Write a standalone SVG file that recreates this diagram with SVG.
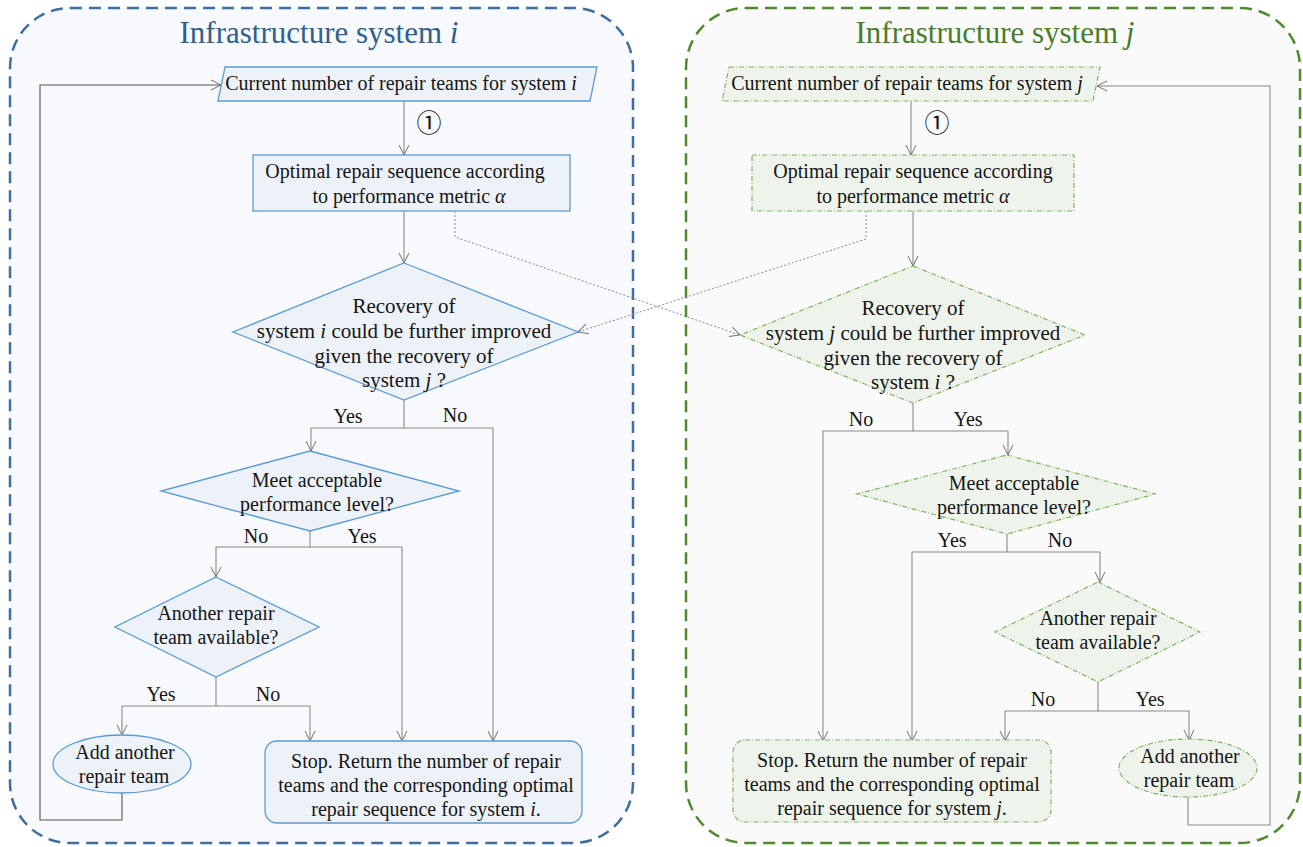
<svg xmlns="http://www.w3.org/2000/svg" width="1303" height="847" viewBox="0 0 1303 847">
  <defs>
    <marker id="arr" viewBox="0 0 12 12" refX="11" refY="6" markerWidth="12" markerHeight="12" markerUnits="userSpaceOnUse" orient="auto">
      <path d="M1,1 L11,6 L1,11" fill="none" stroke="#6f6f6f" stroke-width="1"/>
    </marker>
  </defs>
  <style>
    text { font-family: "Liberation Serif", "Times New Roman", serif; font-size: 20px; fill: #151515; text-anchor: middle; }
    .title { font-size: 31px; }
    .ti { fill: #2f5f8f; }
    .tj { fill: #4a7d2b; }
    .big { font-size: 21px; }
    .circ { font-family: "Noto Sans CJK JP", "DejaVu Sans", sans-serif; font-size: 25px; font-weight: 400; fill: #111; }
    .ni { fill: #edf2f9; stroke: #5b9bd5; stroke-width: 1.3; }
    .nj { fill: #eef4ec; stroke: #7fb35d; stroke-width: 1.2; stroke-dasharray: 5 2 1 2; }
    .c { fill: none; stroke: #8a8a8a; stroke-width: 1.1; marker-end: url(#arr); }
    .cn { fill: none; stroke: #8a8a8a; stroke-width: 1.1; }
    .cd { fill: none; stroke: #8a8a8a; stroke-width: 1; stroke-dasharray: 2 2; marker-end: url(#arr); }
    .loopi { fill: none; stroke: #555; stroke-width: 1.1; marker-end: url(#arr); }
  </style>

  <!-- system containers -->
  <g id="system-i">
    <rect x="10" y="8" width="623" height="835" rx="60" fill="#f7f9fc" stroke="#3f6f9f" stroke-width="2.5" stroke-dasharray="12 7"/>
    <text class="title ti" x="319" y="43">Infrastructure system <tspan font-style="italic">i</tspan></text>
  </g>
  <g id="system-j">
    <rect x="686" y="8" width="614" height="835" rx="60" fill="#fafafa" stroke="#4e8a2e" stroke-width="2.5" stroke-dasharray="12 7"/>
    <text class="title tj" x="995" y="43">Infrastructure system <tspan font-style="italic">j</tspan></text>
  </g>

  <!-- connectors -->
  <g id="connectors">
    <!-- system i -->
    <path class="c" d="M404,101 V155"/>
    <path class="c" d="M404,211 V263"/>
    <path class="cn" d="M404,400 V428 H493"/>
    <path class="c" d="M404,428 H311 V451"/>
    <path class="c" d="M493,428 V741"/>
    <path class="cn" d="M310,531 V547 H402"/>
    <path class="c" d="M310,547 H216 V577"/>
    <path class="c" d="M402,547 V741"/>
    <path class="cn" d="M216,677 V706 H310"/>
    <path class="c" d="M216,706 H122 V735"/>
    <path class="c" d="M310,706 V741"/>
    <path class="loopi" d="M122,793 V820 H40 V85 H221"/>
    <!-- system j -->
    <path class="c" d="M911,101 V155"/>
    <path class="c" d="M913,211 V266"/>
    <path class="cn" d="M913,403 V431 H1008"/>
    <path class="c" d="M913,431 H823 V741"/>
    <path class="c" d="M1008,431 V455"/>
    <path class="cn" d="M1007,534 V552 H912"/>
    <path class="c" d="M912,552 V741"/>
    <path class="c" d="M1007,552 H1100 V582"/>
    <path class="cn" d="M1098,682 V711 H1005"/>
    <path class="c" d="M1005,711 V741"/>
    <path class="c" d="M1098,711 H1189 V740"/>
    <path class="c" d="M1188,797 V825 H1270 V86 H1097"/>
    <!-- cross-system dependencies -->
    <path class="cd" d="M455,211 V237 L740,335"/>
    <path class="cd" d="M866,211 V239 L578,332"/>

    <!-- labels -->
    <text class="circ" x="429" y="132">①</text>
    <text class="circ" x="937" y="132">①</text>
    <text x="348" y="423">Yes</text>
    <text x="455" y="422">No</text>
    <text x="256" y="543">No</text>
    <text x="362" y="543">Yes</text>
    <text x="161" y="701">Yes</text>
    <text x="268" y="701">No</text>
    <text x="861" y="426">No</text>
    <text x="968" y="426">Yes</text>
    <text x="952" y="547">Yes</text>
    <text x="1060" y="547">No</text>
    <text x="1043" y="706">No</text>
    <text x="1150" y="706">Yes</text>
  </g>

  <!-- system i nodes -->
  <g id="i-current">
    <polygon class="ni" points="225,67 597,67 590,101 218,101"/>
    <text x="401" y="90">Current number of repair teams for system <tspan font-style="italic">i</tspan></text>
  </g>
  <g id="i-optimal">
    <rect class="ni" x="253" y="155" width="317" height="56"/>
    <text x="405" y="178">Optimal repair sequence according</text>
    <text x="409" y="203">to performance metric <tspan font-style="italic">α</tspan></text>
  </g>
  <g id="i-recovery">
    <polygon class="ni" points="404,263 578,332 404,400 233,332"/>
    <text class="big" x="404" y="313">Recovery of</text>
    <text class="big" x="404" y="338">system <tspan font-style="italic">i</tspan> could be further improved</text>
    <text class="big" x="404" y="363">given the recovery of</text>
    <text class="big" x="404" y="387">system <tspan font-style="italic">j</tspan> ?</text>
  </g>
  <g id="i-meet">
    <polygon class="ni" points="310,451 459,491 310,531 161,491"/>
    <text x="317" y="487">Meet acceptable</text>
    <text x="317" y="511">performance level?</text>
  </g>
  <g id="i-another">
    <polygon class="ni" points="216,577 319,627 216,677 115,627"/>
    <text x="216" y="620">Another repair</text>
    <text x="216" y="644">team available?</text>
  </g>
  <g id="i-add">
    <ellipse class="ni" cx="122" cy="764" rx="69" ry="29"/>
    <text x="125" y="759">Add another</text>
    <text x="124" y="783">repair team</text>
  </g>
  <g id="i-stop">
    <rect class="ni" x="265" y="741" width="317" height="82" rx="12"/>
    <text x="426" y="768">Stop. Return the number of repair</text>
    <text x="426" y="792">teams and the corresponding optimal</text>
    <text x="426" y="816">repair sequence for system <tspan font-style="italic">i</tspan>.</text>
  </g>

  <!-- system j nodes -->
  <g id="j-current">
    <polygon class="nj" points="729,67 1100,67 1093,101 722,101"/>
    <text x="907" y="90">Current number of repair teams for system <tspan font-style="italic">j</tspan></text>
  </g>
  <g id="j-optimal">
    <rect class="nj" x="752" y="155" width="322" height="56"/>
    <text x="913" y="178">Optimal repair sequence according</text>
    <text x="913" y="203">to performance metric <tspan font-style="italic">α</tspan></text>
  </g>
  <g id="j-recovery">
    <polygon class="nj" points="913,266 1085,335 913,403 740,335"/>
    <text class="big" x="913" y="315">Recovery of</text>
    <text class="big" x="913" y="340">system <tspan font-style="italic">j</tspan> could be further improved</text>
    <text class="big" x="913" y="365">given the recovery of</text>
    <text class="big" x="913" y="389">system <tspan font-style="italic">i</tspan> ?</text>
  </g>
  <g id="j-meet">
    <polygon class="nj" points="1007,455 1155,494 1007,534 857,494"/>
    <text x="1014" y="490">Meet acceptable</text>
    <text x="1014" y="514">performance level?</text>
  </g>
  <g id="j-another">
    <polygon class="nj" points="1098,582 1200,632 1098,682 995,632"/>
    <text x="1098" y="625">Another repair</text>
    <text x="1098" y="649">team available?</text>
  </g>
  <g id="j-add">
    <ellipse class="nj" cx="1188" cy="768" rx="69" ry="29"/>
    <text x="1190" y="763">Add another</text>
    <text x="1189" y="787">repair team</text>
  </g>
  <g id="j-stop">
    <rect class="nj" x="733" y="740" width="318" height="82" rx="12"/>
    <text x="892" y="767">Stop. Return the number of repair</text>
    <text x="892" y="791">teams and the corresponding optimal</text>
    <text x="892" y="815">repair sequence for system <tspan font-style="italic">j</tspan>.</text>
  </g>
</svg>
